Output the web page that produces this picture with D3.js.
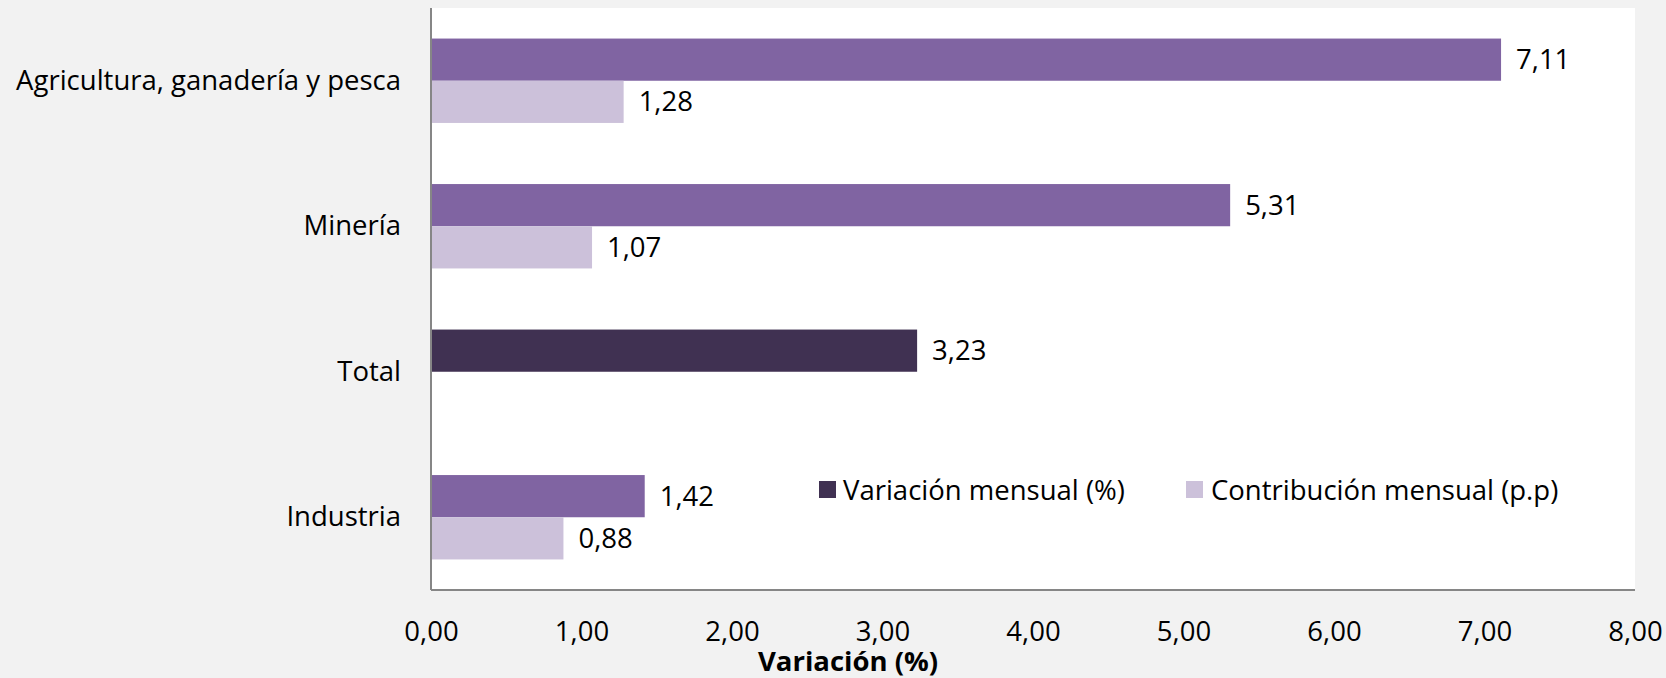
<!DOCTYPE html>
<html>
<head>
<meta charset="utf-8">
<script src="https://cdn.jsdelivr.net/npm/d3@7"></script>
<style>
html,body{margin:0;padding:0;background:#F2F2F2;}
svg{display:block;}
text{font-family:"Open Sans","Noto Sans",sans-serif;fill:#000;}
</style>
</head>
<body>
<svg id="chart" width="1666" height="678"></svg>
<script>
const categories = ["Agricultura, ganadería y pesca", "Minería", "Total", "Industria"];
const variacion = [7.11, 5.31, 3.23, 1.42];
const contribucion = [1.28, 1.07, null, 0.88];
const xTicks = [0, 1, 2, 3, 4, 5, 6, 7, 8];
const seriesNames = ["Variación mensual (%)", "Contribución mensual (p.p)"];

const colVar = "#8064A2", colTotal = "#403152", colCon = "#CCC1DA";
const svg = d3.select("#chart");
const L = 431, R = 1635, T = 8, B = 590;
const FS = 27.5;

svg.append("rect").attr("width",1666).attr("height",678).attr("fill","#F2F2F2");
svg.append("rect").attr("x",L).attr("y",T).attr("width",R-L).attr("height",B-T).attr("fill","#fff");

const x = d3.scaleLinear().domain([0,8]).range([L,R]);
const y = d3.scaleBand().domain(categories).range([T,B]).paddingInner(0.42).paddingOuter(0.21);
const sub = d3.scaleBand().domain(["v","c"]).range([0,y.bandwidth()]);

const fmt = v => d3.format(".2f")(v).replace(".", ",");

const rows = categories.map((c,i)=>({c, v:variacion[i], k:contribucion[i]}));

const g = svg.append("g");
rows.forEach(r=>{
  g.append("rect").attr("x",x(0)).attr("y",y(r.c)+sub("v"))
    .attr("width",x(r.v)-x(0)).attr("height",sub.bandwidth())
    .attr("fill", r.c==="Total"?colTotal:colVar);
  g.append("text").attr("x",x(r.v)+15).attr("y",y(r.c)+sub("v")+sub.bandwidth()/2)
    .attr("dy","0.35em").attr("font-size",FS).text(fmt(r.v));
  if(r.k!=null){
    g.append("rect").attr("x",x(0)).attr("y",y(r.c)+sub("c"))
      .attr("width",x(r.k)-x(0)).attr("height",sub.bandwidth())
      .attr("fill",colCon);
    g.append("text").attr("x",x(r.k)+15).attr("y",y(r.c)+sub("c")+sub.bandwidth()/2)
      .attr("dy","0.35em").attr("font-size",FS).text(fmt(r.k));
  }
});

svg.append("line").attr("x1",L).attr("x2",L).attr("y1",T).attr("y2",B).attr("stroke","#868686").attr("stroke-width",2);
svg.append("line").attr("x1",L).attr("x2",R).attr("y1",B).attr("y2",B).attr("stroke","#868686").attr("stroke-width",2);

const xa = svg.append("g").attr("transform",`translate(0,${B})`)
  .call(d3.axisBottom(x).tickValues(xTicks).tickSize(0).tickPadding(31).tickFormat(fmt));
xa.select(".domain").remove();
xa.selectAll("text").attr("font-size",FS).attr("font-family","'Open Sans','Noto Sans',sans-serif").attr("fill","#000");

const ya = svg.append("g").attr("transform",`translate(${L},0)`)
  .call(d3.axisLeft(y).tickSize(0).tickPadding(30));
ya.select(".domain").remove();
ya.selectAll("text").attr("font-size",FS).attr("font-family","'Open Sans','Noto Sans',sans-serif").attr("fill","#000");

svg.append("text").attr("x",848).attr("y",661).attr("dy","0.35em").attr("text-anchor","middle")
  .attr("font-size",FS).attr("font-weight","bold").text("Variación (%)");

const leg = [{n:seriesNames[0], c:colTotal, sx:819, tx:843},{n:seriesNames[1], c:colCon, sx:1186, tx:1211}];
leg.forEach(l=>{
  svg.append("rect").attr("x",l.sx).attr("y",481).attr("width",17).attr("height",17).attr("fill",l.c);
  svg.append("text").attr("x",l.tx).attr("y",490).attr("dy","0.35em").attr("font-size",FS).text(l.n);
});
</script>
</body>
</html>
